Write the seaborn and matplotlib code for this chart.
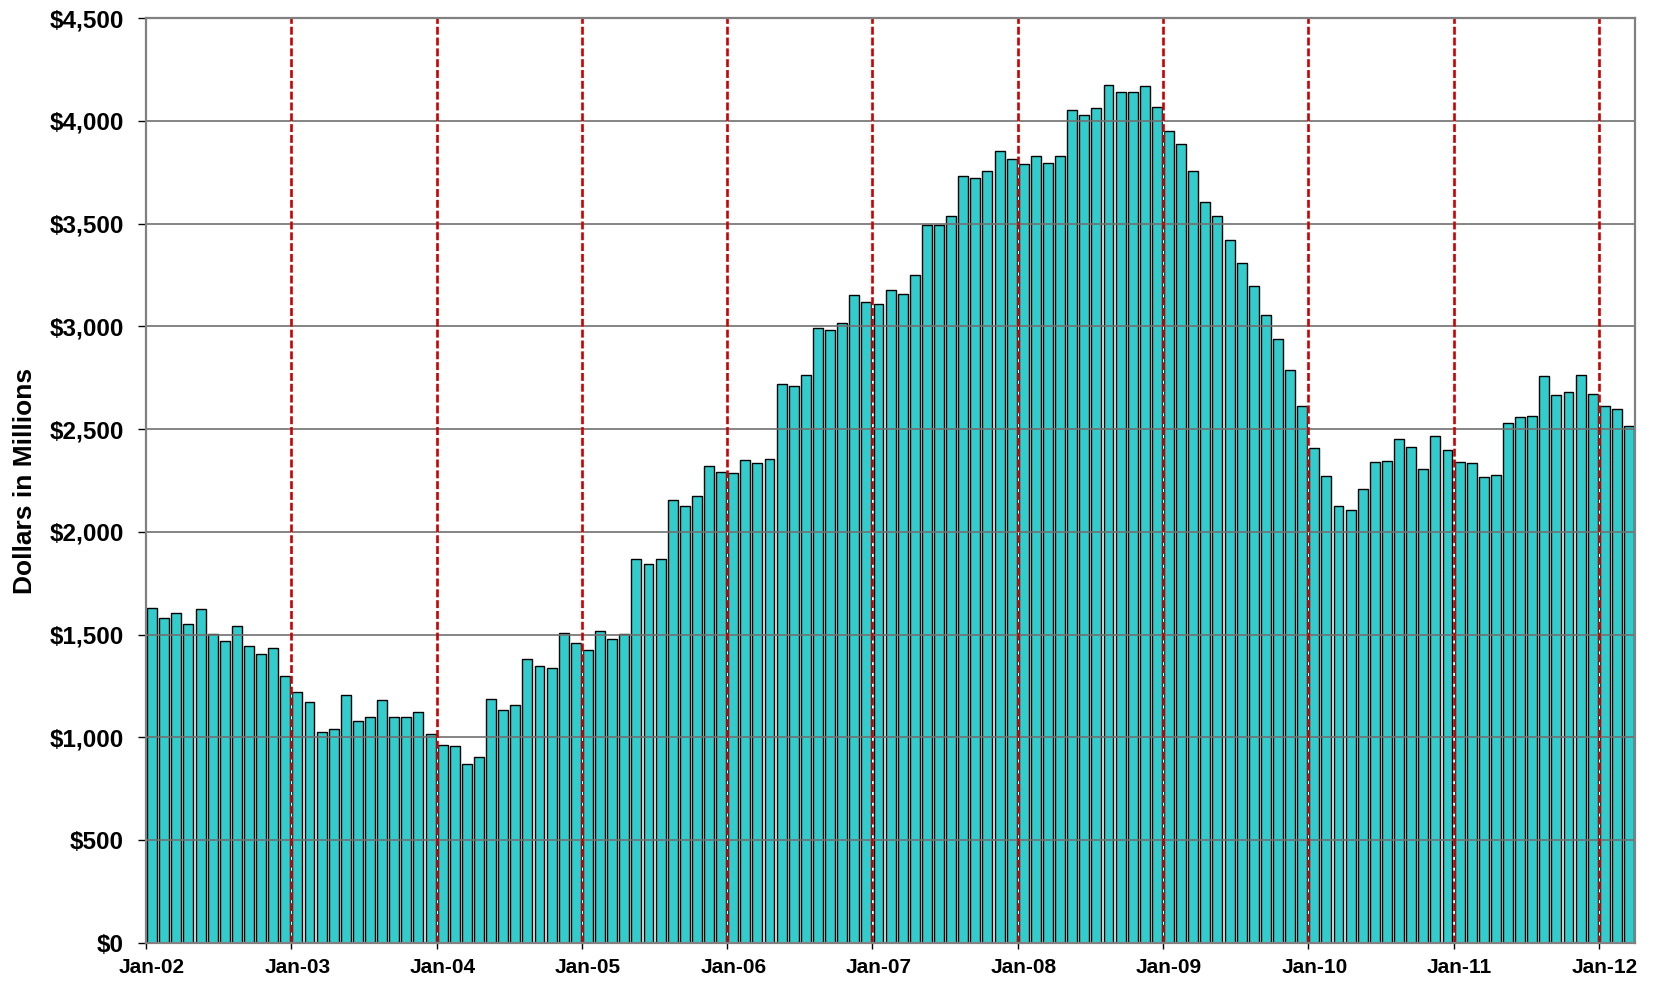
import pandas as pd
import matplotlib
matplotlib.use("Agg")
import matplotlib.pyplot as plt
from matplotlib.ticker import FixedLocator, FuncFormatter
import seaborn as sns

# Valores mensuales (millones de dólares), Ene-2002 a Mar-2012
anios = ["02", "03", "04", "05", "06", "07", "08", "09", "10", "11", "12"]
meses = ["Jan", "Feb", "Mar", "Apr", "May", "Jun",
         "Jul", "Aug", "Sep", "Oct", "Nov", "Dec"]

v2002 = [1627, 1583, 1604, 1549, 1622, 1503, 1467, 1544, 1443, 1407, 1433, 1297]
v2003 = [1219, 1172, 1026, 1042, 1204, 1081, 1101, 1183, 1101, 1099, 1125, 1018]
v2004 = [963, 956, 870, 904, 1188, 1133, 1158, 1383, 1348, 1338, 1508, 1461]
v2005 = [1427, 1516, 1476, 1503, 1869, 1844, 1869, 2154, 2127, 2175, 2322, 2292]
v2006 = [2285, 2351, 2333, 2356, 2722, 2711, 2763, 2990, 2985, 3015, 3151, 3118]
v2007 = [3107, 3175, 3156, 3248, 3495, 3495, 3537, 3731, 3721, 3755, 3854, 3816]
v2008 = [3790, 3828, 3794, 3828, 4054, 4028, 4065, 4174, 4141, 4143, 4172, 4070]
v2009 = [3949, 3890, 3755, 3604, 3539, 3421, 3310, 3195, 3056, 2939, 2786, 2614]
v2010 = [2410, 2270, 2127, 2105, 2207, 2339, 2345, 2454, 2413, 2307, 2465, 2399]
v2011 = [2341, 2337, 2266, 2277, 2528, 2559, 2564, 2757, 2666, 2679, 2762, 2670]
v2012 = [2611, 2600, 2514]

valores = (v2002 + v2003 + v2004 + v2005 + v2006 + v2007 + v2008
           + v2009 + v2010 + v2011 + v2012)
etiquetas = [f"{m}-{a}" for a in anios for m in meses][:len(valores)]

df = pd.DataFrame({"mes": etiquetas, "valor": valores})

sns.set_style("white")
plt.rcParams["font.family"] = ["Liberation Sans", "DejaVu Sans"]
plt.rcParams["font.weight"] = "bold"
plt.rcParams["text.color"] = "black"
plt.rcParams["axes.labelcolor"] = "black"
plt.rcParams["xtick.color"] = "black"
plt.rcParams["ytick.color"] = "black"

fig = plt.figure(figsize=(16.58, 9.83), dpi=100)
ax = fig.add_axes([0.0881, 0.0410, 0.8981, 0.9404])

sns.barplot(data=df, x="mes", y="valor", order=etiquetas, color="#33CCCC",
            saturation=1, edgecolor="black", linewidth=1.0, width=0.82,
            ax=ax, zorder=2)

n = len(valores)
ax.set_xlim(-0.5, n - 0.5)
ax.set_ylim(0, 4500)

# Líneas de cuadrícula horizontales (sobre las barras)
for y in range(500, 4500, 500):
    ax.axhline(y, color="#707070", linewidth=1.2, zorder=3)

# Separadores de año en rojo punteado
for i in range(12, n, 12):
    ax.axvline(i - 0.5, color="white", linewidth=1.0, zorder=4)
    ax.axvline(i - 0.5, color="#CC0000", linewidth=1.9,
               linestyle=(0, (3, 1.1)), zorder=5)

# Eje X: etiquetas centradas en enero, marcas en los límites de año
pos_enero = list(range(0, n, 12))
ax.set_xticks(pos_enero)
ax.set_xticklabels([etiquetas[i] for i in pos_enero], fontsize=15,
                   fontweight="bold", color="black")
ax.tick_params(axis="x", which="major", length=0, pad=11)
ax.xaxis.set_minor_locator(FixedLocator([i - 0.5 for i in range(0, n, 12)]))
ax.tick_params(axis="x", which="minor", direction="out", length=4.5,
               width=1, color="black", bottom=True)

# Eje Y
ax.set_yticks(range(0, 4501, 500))
ax.yaxis.set_major_formatter(FuncFormatter(lambda v, p: f"${int(v):,}"))
ax.tick_params(axis="y", which="major", direction="out", length=6, width=1,
               color="black", labelcolor="black", labelsize=17.5, pad=10,
               left=True)
for lbl in ax.get_yticklabels():
    lbl.set_fontweight("bold")

ax.set_xlabel("")
ax.set_ylabel("Dollars in Millions", fontsize=19, fontweight="bold",
              va="center", color="black")
ax.yaxis.set_label_coords(-0.0810, 0.5)

for lado in ["left", "right", "top", "bottom"]:
    ax.spines[lado].set_visible(True)
    ax.spines[lado].set_color("#808080")
    ax.spines[lado].set_linewidth(1.6)
    ax.spines[lado].set_zorder(6)

fig.savefig("out.png", dpi=100)
